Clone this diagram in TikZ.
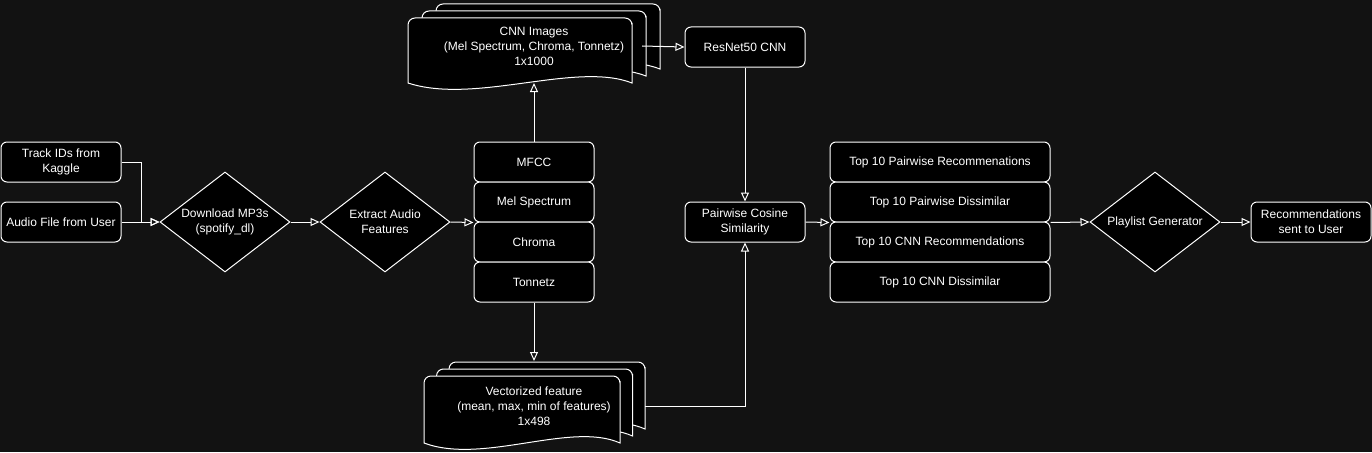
\documentclass[tikz,border=0pt]{standalone}
\usepackage{fontspec}
\setmainfont{Liberation Sans}
\usetikzlibrary{shapes.geometric,arrows.meta}
\definecolor{bg}{HTML}{121212}

% one page of a stacked document, x, top, width, bottom
\newcommand{\docpage}[4]{%
  \filldraw[draw=white, fill=black] (#1,#4) [rounded corners=7] -- (#1,#2) -- ({#1+#3},#2) -- ({#1+#3},{#2+12})
    [sharp corners] -- ({#1+#3},#4) .. controls ({#1+0.75*#3},{#4-22}) and ({#1+0.3*#3},{#4+22}) .. cycle;}

\begin{document}
\begin{tikzpicture}[x=1pt, y=-1pt, line width=1pt,
    font=\fontsize{12}{15}\selectfont,
    box/.style={draw=white, fill=black, text=white, rounded corners=6, minimum width=120, minimum height=40, align=center, inner sep=2},
    wide/.style={box, minimum width=220},
    dia/.style={diamond, draw=white, fill=black, text=white, aspect=1.3, minimum width=130, minimum height=100, inner sep=0, align=center},
    arr/.style={draw=white, -{Triangle[open, length=9pt, width=8pt]}}]
	\fill[bg] (0,0) rectangle (1372,452); % Hintergrund
	\useasboundingbox (0,0) rectangle (1372,452);

	% gestapelte Dokumente
	\foreach \i in {2,1,0} \docpage{408+14*\i}{18-7*\i}{224}{83-7*\i};
	\foreach \i in {2,1,0} \docpage{424+12.5*\i}{376-7*\i}{196}{443-7*\i};
	\node[text=white, align=center] (cnnimg) at (534,46) {CNN Images\\(Mel Spectrum, Chroma, Tonnetz)\\1x1000};
	\node[text=white, align=center] (vecfeat) at (534,406) {Vectorized feature\\(mean, max, min of features)\\1x498};
	\coordinate (cnnbot) at (534,83);
	\coordinate (cnnout) at (642,46);
	\coordinate (vectop) at (534,361);
	\coordinate (vecout) at (645,406);

	\node[box] (track) at (61,162) {Track IDs from\\Kaggle};
	\node[box] (audio) at (61,222) {Audio File from User};
	\node[dia] (dl) at (225,222) {Download MP3s\\(spotify\_dl)};
	\node[dia] (ex) at (385,222) {Extract Audio\\Features};

	\node[box] (mfcc) at (534,162) {MFCC};
	\node[box] (mel) at (534,202) {Mel Spectrum};
	\node[box] (chroma) at (534,242) {Chroma};
	\node[box] (tonnetz) at (534,282) {Tonnetz};

	\node[box] (resnet) at (745,47) {ResNet50 CNN};
	\node[box] (pcs) at (745,222) {Pairwise Cosine\\Similarity};

	\node[wide] (pwrec) at (940,162) {Top 10 Pairwise Recommenations};
	\node[wide] (pwdis) at (940,202) {Top 10 Pairwise Dissimilar};
	\node[wide] (cnnrec) at (940,242) {Top 10 CNN Recommendations};
	\node[wide] (cnndis) at (940,282) {Top 10 CNN Dissimilar};

	\node[dia] (pl) at (1155,222) {Playlist Generator};
	\node[box] (rec) at (1311,222) {Recommendations\\sent to User};

	\draw[arr] (track.east) -- ++(20,0) |- (dl.west);
	\draw[arr] (audio.east) -- (dl.west);
	\draw[arr] (dl.east) -- (ex.west);
	\draw[arr] (ex.east) -- (mel.south west);
	\draw[arr] (mfcc.north) -- (cnnbot);
	\draw[arr] (tonnetz.south) -- (vectop);
	\draw[arr] (cnnout) -- (resnet.west);
	\draw[arr] (resnet.south) -- (pcs.north);
	\draw[arr] (vecout) -| (pcs.south);
	\draw[arr] (pcs.east) -- (pwdis.south west);
	\draw[arr] (pwdis.south east) -- (pl.west);
	\draw[arr] (pl.east) -- (rec.west);

	%\draw[help lines, step=20] (0,0) grid (1372,452);
\end{tikzpicture}
\end{document}
